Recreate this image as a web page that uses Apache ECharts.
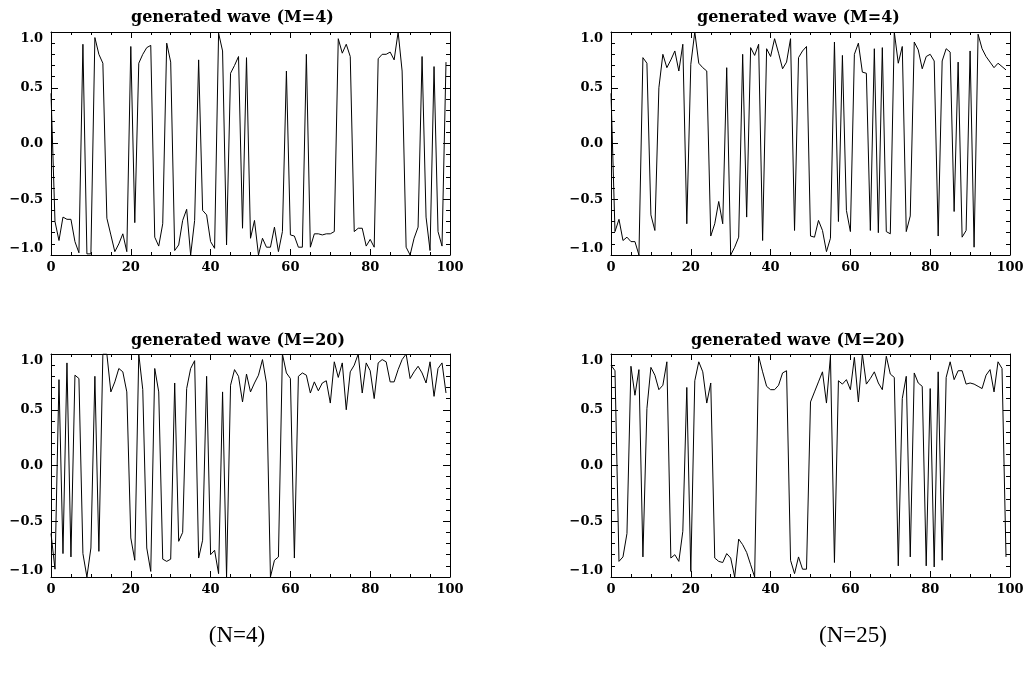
<!DOCTYPE html>
<html><head><meta charset="utf-8">
<script src="https://cdn.jsdelivr.net/npm/echarts@6/dist/echarts.min.js"></script>
<style>html,body{margin:0;padding:0;background:#fff}#c{width:1029px;height:683px}</style>
</head><body><div id="c"></div>
<script>
// Values (x = 0..99)
const waveN4M4 = [
 0.45,-0.70,-0.87,-0.66,-0.68,-0.68,-0.88,-0.98,0.89,-0.99,
 -0.99,0.95,0.80,0.72,-0.67,-0.82,-0.97,-0.90,-0.81,-0.97,
 0.87,-0.71,0.72,0.80,0.86,0.88,-0.84,-0.92,-0.72,0.90,
 0.73,-0.96,-0.91,-0.69,-0.59,-1.0,-0.69,0.75,-0.60,-0.64,
 -0.88,-0.94,0.99,0.83,-0.91,0.63,0.70,0.78,-0.76,0.77,
 -0.85,-0.69,-1.0,-0.85,-0.93,-0.93,-0.75,-0.97,-0.79,0.65,
 -0.82,-0.83,-0.93,-0.93,0.80,-0.93,-0.81,-0.81,-0.82,-0.81,
 -0.81,-0.79,0.94,0.81,0.89,0.78,-0.79,-0.76,-0.76,-0.92,
 -0.86,-0.93,0.76,0.80,0.80,0.82,0.75,1.0,0.65,-0.93,
 -1.0,-0.85,-0.75,0.78,-0.66,-0.96,0.69,-0.79,-0.92,0.73];
const waveN25M4 = [
 0.45,-0.79,-0.68,-0.87,-0.84,-0.88,-0.88,-1.0,0.77,0.72,
 -0.64,-0.78,0.50,0.80,0.68,0.75,0.83,0.65,0.89,-0.72,
 0.71,1.0,0.72,0.68,0.65,-0.83,-0.72,-0.52,-0.72,0.68,
 -1.0,-0.93,-0.84,0.80,-0.66,0.86,0.79,0.89,-0.87,0.85,
 0.78,0.94,0.81,0.67,0.73,0.94,-0.78,0.77,0.83,0.87,
 -0.83,-0.84,-0.69,-0.78,-0.97,-0.85,0.91,-0.70,0.79,-0.60,
 -0.79,0.80,0.90,0.64,0.63,-0.78,0.85,-0.80,0.86,-0.79,
 -0.81,1.0,0.72,0.87,-0.79,-0.65,0.91,0.84,0.67,0.78,
 0.80,0.74,-0.83,0.74,0.85,0.82,-0.61,0.73,-0.84,-0.78,
 0.83,-0.93,0.98,0.85,0.78,0.73,0.68,0.72,0.69,0.66];
const waveN4M20 = [
 -0.61,-0.93,0.77,-0.79,0.92,-0.82,0.81,0.78,-0.79,-1.0,
 -0.74,0.80,-0.77,1.0,1.0,0.66,0.75,0.87,0.84,0.66,
 -0.65,-0.85,1.0,0.68,-0.74,-0.95,0.87,0.66,-0.84,-0.86,
 -0.84,0.74,-0.68,-0.60,0.69,0.87,0.94,-0.83,-0.67,0.80,
 -0.80,-0.76,-0.97,0.66,-1.0,0.72,0.86,0.80,0.57,0.82,
 0.66,0.74,0.81,0.95,0.74,-1.0,-0.85,-0.82,1.0,0.83,
 0.78,-0.83,0.80,0.83,0.81,0.65,0.75,0.67,0.74,0.76,
 0.56,0.93,0.79,0.92,0.50,0.84,0.90,1.0,0.65,0.92,
 0.85,0.60,0.92,0.95,0.93,0.75,0.75,0.86,0.95,1.0,
 0.78,0.84,0.89,0.83,0.74,0.93,0.62,0.87,0.92,0.65];
const waveN25M20 = [
 0.90,0.85,-0.86,-0.82,-0.61,0.89,0.63,0.86,-0.82,0.51,
 0.88,0.81,0.68,0.72,0.93,-0.83,-0.80,-0.86,-0.59,0.70,
 -0.95,0.76,0.93,0.84,0.56,0.74,-0.83,-0.86,-0.87,-0.79,
 -0.83,-1.0,-0.66,-0.71,-0.78,-0.89,-1.0,0.98,0.84,0.71,
 0.68,0.68,0.72,0.83,0.85,-0.85,-0.97,-0.82,-0.93,-0.93,
 0.57,0.66,0.75,0.84,0.56,0.98,-0.87,0.76,0.73,0.77,
 0.68,0.97,0.57,1.0,0.73,0.78,0.84,0.74,0.68,0.98,
 0.82,0.79,-0.90,0.60,0.80,-0.82,0.83,0.74,0.71,-0.90,
 0.69,-0.91,0.84,-0.85,0.79,0.93,0.77,0.85,0.85,0.73,
 0.74,0.73,0.71,0.69,0.81,0.86,0.66,0.93,0.87,-0.82];

const panelTitles = ['generated wave (M=4)', 'generated wave (M=4)', 'generated wave (M=20)', 'generated wave (M=20)'];
const captions = ['(N=4)', '(N=25)'];
const xMin = 0, xMax = 100, xStep = 20;
const yMin = -1, yMax = 1, yStep = 0.5;

const panelData = [waveN4M4, waveN25M4, waveN4M20, waveN25M20];
const gridBoxes = [
  {left: 51, top: 32, width: 399, height: 223},
  {left: 611, top: 32, width: 399, height: 223},
  {left: 51, top: 354, width: 399, height: 223},
  {left: 611, top: 354, width: 399, height: 223}
];
const titlePos = [[131, 19], [697, 19], [131, 342], [691, 342]];
const captionPos = [[237, 636], [853, 636]];

const labelFont = {color: '#000', fontFamily: 'DejaVu Serif', fontWeight: 'bold', fontSize: 13};
const blk = {color: '#000', width: 1};

const grid = [], xAxis = [], yAxis = [], series = [], graphic = [];
gridBoxes.forEach((b, g) => {
  grid.push(Object.assign({outerBoundsMode: 'none', containLabel: false, show: false}, b));
  const xBase = {
    type: 'value', gridIndex: g, min: xMin, max: xMax, interval: xStep,
    axisLine: {show: true, onZero: false, lineStyle: blk},
    axisTick: {show: true, inside: true, length: 6, lineStyle: blk},
    minorTick: {show: true, splitNumber: 4, length: 3, lineStyle: blk},
    splitLine: {show: false}, minorSplitLine: {show: false}
  };
  xAxis.push(Object.assign({}, xBase, {position: 'bottom',
    axisLabel: Object.assign({show: true, margin: 6}, labelFont)}));
  xAxis.push(Object.assign({}, xBase, {position: 'top', axisLabel: {show: false}}));
  const yBase = {
    type: 'value', gridIndex: g, min: yMin, max: yMax, interval: yStep,
    axisLine: {show: true, onZero: false, lineStyle: blk},
    axisTick: {show: true, inside: true, length: 7, lineStyle: blk},
    minorTick: {show: true, splitNumber: 5, length: 4, lineStyle: blk},
    splitLine: {show: false}, minorSplitLine: {show: false}
  };
  yAxis.push(Object.assign({}, yBase, {position: 'left',
    axisLabel: Object.assign({show: true, margin: 8,
      verticalAlignMaxLabel: 'top', verticalAlignMinLabel: 'bottom',
      formatter: v => (v < 0 ? '\u2212' : '') + Math.abs(v).toFixed(1)}, labelFont)}));
  yAxis.push(Object.assign({}, yBase, {position: 'right', axisLabel: {show: false}}));
  series.push({
    type: 'line', xAxisIndex: 2 * g, yAxisIndex: 2 * g,
    data: panelData[g].map((v, i) => [i, v]),
    symbol: 'none', showSymbol: false, clip: true,
    lineStyle: {color: '#000', width: 1}, silent: true
  });
  graphic.push({type: 'text', left: titlePos[g][0], top: titlePos[g][1] - 9,
    style: {text: panelTitles[g], fill: '#000', font: 'bold 16px "DejaVu Serif"'}});
});
captions.forEach((c, k) => {
  graphic.push({type: 'text', x: captionPos[k][0], y: captionPos[k][1],
    style: {text: c, fill: '#000', font: '23px "Liberation Serif"', textAlign: 'center', textVerticalAlign: 'middle'}});
});

const chart = echarts.init(document.getElementById('c'), null, {renderer: 'canvas'});
chart.setOption({animation: false, backgroundColor: '#fff', grid, xAxis, yAxis, series, graphic});
</script></body></html>
